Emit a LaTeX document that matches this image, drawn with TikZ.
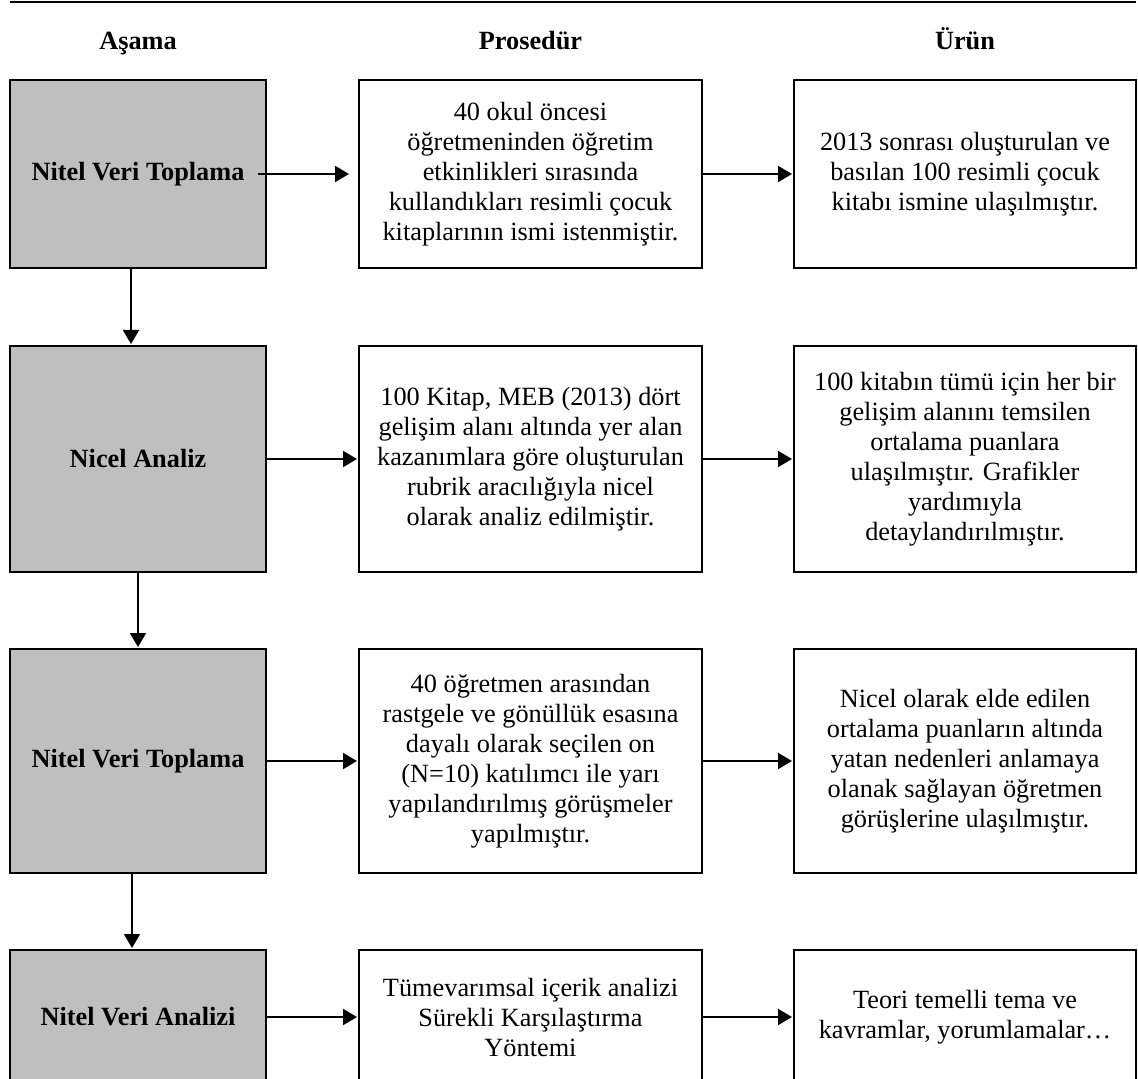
\documentclass[tikz,border=0pt]{standalone}
\usepackage{fontspec}
\setmainfont{Liberation Serif}
\usepackage{tikz}
\usetikzlibrary{arrows.meta,positioning}
\definecolor{stagegray}{RGB}{191,191,191}

\begin{document}
\begin{tikzpicture}[x=0.5pt, y=-0.5pt, >={Triangle[length=7pt,width=8pt]},
    line width=1pt, font=\fontsize{13.15}{15}\selectfont,
    box/.style={draw, rectangle, inner sep=0pt, outer sep=0pt, align=center},
    stage/.style={box, fill=stagegray, font=\fontsize{13.15}{15}\selectfont\bfseries, minimum width=128pt},
    proc/.style={box, minimum width=171.5pt},
    prod/.style={box, minimum width=171pt},
    head/.style={font=\fontsize{13.15}{15}\selectfont\bfseries, anchor=base, inner sep=0pt},
    link/.style={->, shorten >=1pt}]
    \useasboundingbox (0,0) rectangle (1138,1079);
    \clip (0,0) rectangle (1138,1079);

    % Nodes {stages g1-g4, procedures p1-p4, products u1-u4}
    \node [stage, minimum height=94pt]  (g1) at (138,174)      {Nitel Veri Toplama};
    \node [proc, minimum height=94pt]   (p1) [right=46.5pt of g1] {40 okul öncesi\\öğretmeninden öğretim\\etkinlikleri sırasında\\kullandıkları resimli çocuk\\kitaplarının ismi istenmiştir.};
    \node [prod, minimum height=94pt]   (u1) [right=46pt of p1]   {2013 sonrası oluşturulan ve\\basılan 100 resimli çocuk\\kitabı ismine ulaşılmıştır.};

    \node [stage, minimum height=113pt] (g2) [below=39pt of g1]   {Nicel Analiz};
    \node [proc, minimum height=113pt]  (p2) [right=46.5pt of g2] {100 Kitap, MEB (2013) dört\\gelişim alanı altında yer alan\\kazanımlara göre oluşturulan\\rubrik aracılığıyla nicel\\olarak analiz edilmiştir.};
    \node [prod, minimum height=113pt]  (u2) [right=46pt of p2]   {100 kitabın tümü için her bir\\gelişim alanını temsilen\\ortalama puanlara\\ulaşılmıştır. Grafikler\\yardımıyla\\detaylandırılmıştır.};

    \node [stage, minimum height=112pt] (g3) [below=38.5pt of g2] {Nitel Veri Toplama};
    \node [proc, minimum height=112pt]  (p3) [right=46.5pt of g3] {40 öğretmen arasından\\rastgele ve gönüllük esasına\\dayalı olarak seçilen on\\(N=10) katılımcı ile yarı\\yapılandırılmış görüşmeler\\yapılmıştır.};
    \node [prod, minimum height=112pt]  (u3) [right=46pt of p3]   {Nicel olarak elde edilen\\ortalama puanların altında\\yatan nedenleri anlamaya\\olanak sağlayan öğretmen\\görüşlerine ulaşılmıştır.};

    \node [stage, minimum height=67pt]  (g4) [below=38.5pt of g3] {Nitel Veri Analizi};
    \node [proc, minimum height=67pt]   (p4) [right=46.5pt of g4] {Tümevarımsal içerik analizi\\Sürekli Karşılaştırma\\Yöntemi};
    \node [prod, minimum height=67pt]   (u4) [right=46pt of p4]   {Teori temelli tema ve\\kavramlar, yorumlamalar…};

    % Headers
    \node [head] (hd1) at ([yshift=15pt]g1.north) {Aşama};
    \node [head] (hd2) at ([yshift=15pt]p1.north) {Prosedür};
    \node [head] (hd3) at ([yshift=15pt]u1.north) {Ürün};
    \draw [line width=1.2pt] (g1.west |- 0,2) -- (u1.east |- 0,2);

    % Paths
    \path [link] ([xshift=-4pt]g1.east) edge [shorten >=5pt] (p1);
    \path [link] (p1) edge (u1);
    \path [link] (g2) edge (p2);
    \path [link] (p2) edge (u2);
    \path [link] (g3) edge (p3);
    \path [link] (p3) edge (u3);
    \path [link] (g4) edge (p4);
    \path [link] (p4) edge (u4);

    \path [link] ([xshift=-3.5pt]g1.south) edge ([xshift=-3.5pt]g2.north);
    \path [link] (g2) edge (g3);
    \path [link] ([xshift=-3pt]g3.south) edge ([xshift=-3pt]g4.north);
\end{tikzpicture}
\end{document}
